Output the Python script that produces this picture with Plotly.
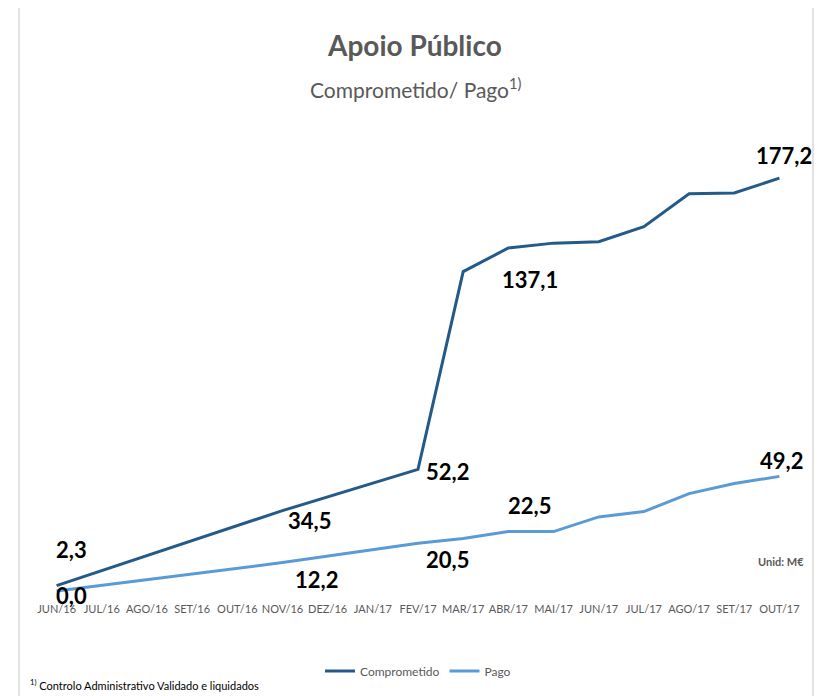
import plotly.graph_objects as go

months = ["JUN/16", "JUL/16", "AGO/16", "SET/16", "OUT/16", "NOV/16", "DEZ/16", "JAN/17",
          "FEV/17", "MAR/17", "ABR/17", "MAI/17", "JUN/17", "JUL/17", "AGO/17", "SET/17", "OUT/17"]
comprometido = [2.3, None, None, None, None, 34.5, None, None, 52.2,
                137.1, 147.2, 149.3, 149.9, 156.4, 170.5, 170.8, 177.2]
pago = [0.0, None, None, None, None, 12.2, None, None, 20.5,
        22.5, 25.5, 25.5, 31.8, 34.1, 41.8, 46.1, 49.2]

# labelled points: (month index, pixel shift x, pixel shift y)
comp_labels = [(0, 15, 36), (5, 27, -10), (8, 29, -2), (9, 67, -8), (16, 5, 23)]
pago_labels = [(0, 15, -4), (5, 34, -17), (8, 29, -16), (9, 66, 33), (16, 2, 16)]

FONT = "Lato, Roboto, sans-serif"
C_DARK = "#245A8A"
C_LIGHT = "#5B9BD5"
GREY = "#595959"

fig = go.Figure()
fig.add_trace(go.Scatter(x=months, y=comprometido, name="Comprometido", mode="lines",
                         connectgaps=True, line=dict(color=C_DARK, width=3)))
fig.add_trace(go.Scatter(x=months, y=pago, name="Pago", mode="lines",
                         connectgaps=True, line=dict(color=C_LIGHT, width=3)))

def fmt(v):
    return f"{v:.1f}".replace(".", ",")

annotations = []
for series, labels in ((comprometido, comp_labels), (pago, pago_labels)):
    for i, dx, dy in labels:
        annotations.append(dict(x=months[i], y=series[i], xref="x", yref="y",
                                text=f"<b>{fmt(series[i])}</b>", showarrow=False,
                                xanchor="center", yanchor="middle",
                                xshift=dx, yshift=dy,
                                font=dict(family=FONT, size=22, color="#000000")))

annotations += [
    dict(x=0.496, y=1.168, xref="paper", yref="paper", text="<b>Apoio Público</b>",
         xanchor="center", yanchor="middle",
         showarrow=False, font=dict(family=FONT, size=28, color=GREY)),
    dict(x=0.498, y=1.078, xref="paper", yref="paper",
         text="Comprometido/ Pago<sup>1)</sup>", xanchor="center", yanchor="middle",
         showarrow=False, font=dict(family=FONT, size=21, color=GREY)),
    dict(x=1.005, y=0.083, xref="paper", yref="paper", text="<b>Unid: M€</b>",
         xanchor="right", yanchor="middle",
         showarrow=False, font=dict(family=FONT, size=11, color=GREY)),
    dict(x=-0.008, y=-0.175, xref="paper", yref="paper",
         text="<sup>1)</sup> Controlo Administrativo Validado e liquidados",
         xanchor="left", yanchor="middle",
         showarrow=False, font=dict(family=FONT, size=11, color="#000000")),
]

fig.update_layout(
    width=814, height=688,
    margin=dict(l=26, r=20, t=117, b=94.5, autoexpand=False),
    paper_bgcolor="white", plot_bgcolor="white",
    font=dict(family=FONT, color=GREY),
    showlegend=True,
    legend=dict(orientation="h", x=0.5, xanchor="center", y=-0.147, yanchor="middle",
                font=dict(family=FONT, size=12, color=GREY)),
    xaxis=dict(type="category", range=[-0.5, 16.5], showgrid=False, zeroline=False,
               showline=False, ticks="", tickfont=dict(family=FONT, size=11, color=GREY)),
    yaxis=dict(range=[-4.29, 200], visible=False, showgrid=False, zeroline=False),
    annotations=annotations,
    shapes=[dict(type="rect", xref="paper", yref="paper",
                 x0=(19 - 34) / 768, x1=(813 - 34) / 768,
                 y0=-0.4, y1=1 + (125 - 7) / 476.5,
                 line=dict(color="#D9D9D9", width=1.5), fillcolor="rgba(0,0,0,0)",
                 layer="below")],
)

fig.write_html("out.html")
